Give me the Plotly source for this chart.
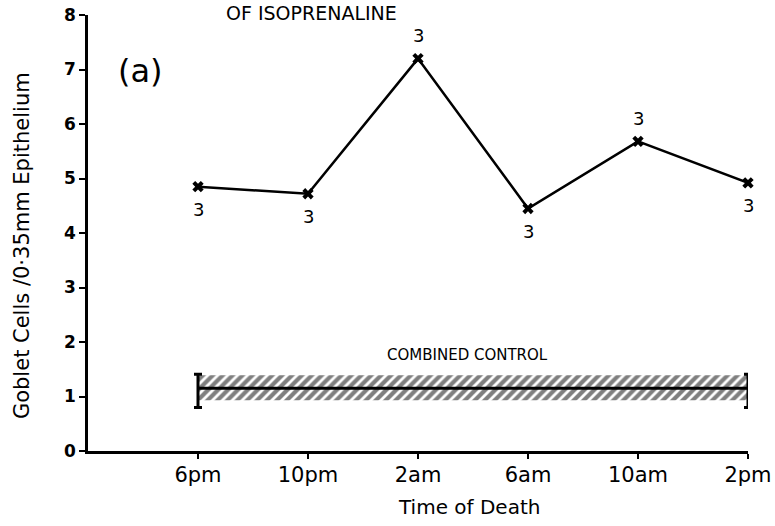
import plotly.graph_objects as go

times = ["6pm", "10pm", "2am", "6am", "10am", "2pm"]
goblet = [4.85, 4.72, 7.2, 4.45, 5.68, 4.92]
n_labels = ["3", "3", "3", "3", "3", "3"]
label_above = [False, False, True, False, True, False]
control_mean = 1.15
control_low = 0.93
control_high = 1.39
control_err_low = 0.8
control_err_high = 1.41
y_ticks = [0, 1, 2, 3, 4, 5, 6, 7, 8]

xi = list(range(len(times)))
FONT = "DejaVu Sans, sans-serif"

fig = go.Figure()

# hatched control band
fig.add_trace(go.Scatter(
    x=[xi[0], xi[-1], xi[-1], xi[0], xi[0]],
    y=[control_low, control_low, control_high, control_high, control_low],
    fill="toself", mode="lines", line=dict(color="rgba(0,0,0,0)", width=0),
    fillcolor="white",
    fillpattern=dict(shape="/", fgcolor="black", bgcolor="white", size=7, solidity=0.6),
    hoverinfo="skip", showlegend=False))

# control mean line with error caps
fig.add_trace(go.Scatter(
    x=[xi[0], xi[-1]], y=[control_mean, control_mean], mode="lines",
    line=dict(color="black", width=3),
    error_y=dict(type="data", symmetric=False,
                 array=[control_err_high - control_mean] * 2,
                 arrayminus=[control_mean - control_err_low] * 2,
                 color="black", thickness=3, width=4),
    hoverinfo="skip", showlegend=False, cliponaxis=False))

# main series
fig.add_trace(go.Scatter(
    x=xi, y=goblet, mode="lines+markers",
    line=dict(color="black", width=2.5),
    marker=dict(symbol="x", size=10, color="black"),
    showlegend=False, cliponaxis=False))

for x, y, t, above in zip(xi, goblet, n_labels, label_above):
    fig.add_annotation(x=x, y=y, text=t, showarrow=False,
                       yshift=23 if above else -23,
                       font=dict(family=FONT, size=18, color="black"))

fig.add_annotation(x=2.45, y=1.76, text="COMBINED CONTROL", showarrow=False,
                   font=dict(family=FONT, size=15, color="black"))
fig.add_annotation(x=-0.52, y=6.97, text="(a)", showarrow=False,
                   font=dict(family=FONT, size=32, color="black"))
fig.add_annotation(x=0.338, y=1.0, xref="paper", yref="paper", yanchor="top",
                   yshift=15, text="OF ISOPRENALINE", showarrow=False,
                   font=dict(family=FONT, size=19, color="black"))
# axis titles
fig.add_annotation(x=0.577, y=-0.128, xref="paper", yref="paper",
                   xanchor="center", yanchor="middle",
                   text="Time of Death", showarrow=False,
                   font=dict(family=FONT, size=20, color="black"))
fig.add_annotation(x=-0.1, y=0.47, xref="paper", yref="paper", textangle=-90,
                   xanchor="center", yanchor="middle",
                   text="Goblet Cells /0·35mm Epithelium", showarrow=False,
                   font=dict(family=FONT, size=21, color="black"))

fig.update_layout(
    width=775, height=526,
    margin=dict(l=88, r=27, t=15, b=75, autoexpand=False),
    paper_bgcolor="white", plot_bgcolor="white",
    font=dict(family=FONT, color="black"),
    xaxis=dict(range=[-1, 5], tickmode="array", tickvals=xi, ticktext=times,
               automargin=False,
               showgrid=False, zeroline=False, showline=True, linecolor="black",
               linewidth=2.5, ticks="outside", ticklen=5, tickwidth=2, tickcolor="black",
               ticklabelstandoff=-2,
               tickfont=dict(family=FONT, size=21)),
    yaxis=dict(range=[0, 8], tickmode="array", tickvals=y_ticks, automargin=False,
               showgrid=False, zeroline=False, showline=True, linecolor="black",
               linewidth=2.5, ticks="outside", ticklen=6, tickwidth=2, tickcolor="black",
               tickfont=dict(family=FONT, size=17, weight="bold"),
               ticklabelstandoff=0),
)

fig.write_html("out.html")
